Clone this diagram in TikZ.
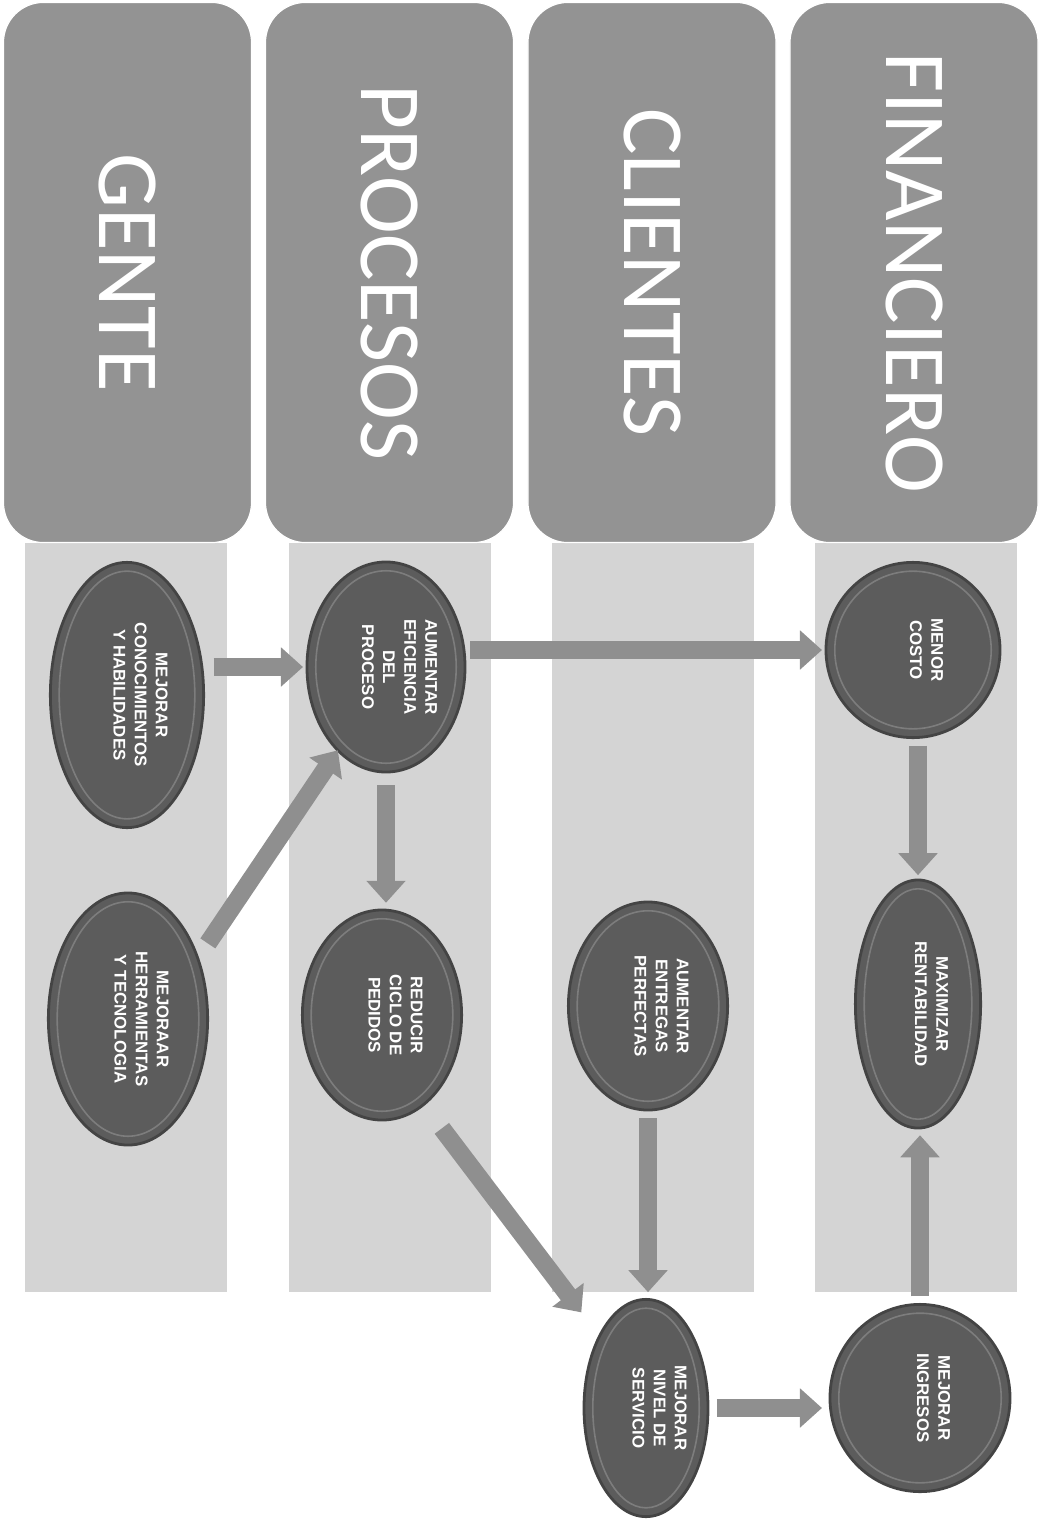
\documentclass[tikz,border=0pt]{standalone}
\usepackage{fontspec}
\setmainfont{Liberation Sans}
\newfontfamily\headfont{Carlito}
\usetikzlibrary{arrows.meta,shapes.geometric,calc}
\definecolor{headgray}{HTML}{939393}
\definecolor{lanegray}{HTML}{D4D4D4}
\definecolor{goalgray}{HTML}{5C5C5C}
\definecolor{rimgray}{HTML}{444444}
\definecolor{arrowgray}{HTML}{8F8F8F}
% vertical text, read from top to bottom
\newcommand{\vtext}[1]{\hspace{0.6cm}\rotatebox{-90}{\begin{tabular}{@{}c@{}}#1\end{tabular}}}

\begin{document}
\begin{tikzpicture}[x=0.025cm, y=-0.025cm,
    header/.style={rectangle, rounded corners=1cm, fill=headgray, draw=white, line width=0.03cm,
        minimum width=6.2cm, minimum height=13.5cm, inner sep=0pt, text=white,
        font=\headfont\fontsize{62}{62}\selectfont},
    goal/.style={ellipse, fill=goalgray, draw=rimgray, line width=0.07cm, inner sep=0pt, outer sep=0pt,
        text=white, font=\bfseries\fontsize{12}{15}\selectfont,
        path picture={\draw[goalgray!80!white, line width=0.04cm]
            let \p1=($(path picture bounding box.north east)-(path picture bounding box.center)$) in
            (path picture bounding box.center) ellipse ({abs(\x1)-0.22cm} and {abs(\y1)-0.22cm});}},
    flow/.style={line width=0.45cm, draw=arrowgray, -{Triangle[width=0.95cm,length=0.55cm]}}]
    \useasboundingbox (0,0) rectangle (1040,1519);

    % lanes
    \foreach \x in {25,289,552,815}
        \fill[lanegray] (\x,543) rectangle ++(202,749);

    % headers
    \foreach \name/\x/\txt in {gente/127.5/GENTE, procesos/389.5/PROCESOS, clientes/652/CLIENTES, financiero/914/FINANCIERO}
        \node[header] (\name) at (\x,272.5) {\rotatebox{-90}{\txt}};

    % goals
    \node[goal, minimum width=3.83cm, minimum height=6.63cm] (conoc) at (127,695) {\vtext{MEJORAR\\CONOCIMIENTOS\\Y HABILIDADES}};
    \node[goal, minimum width=3.98cm, minimum height=6.3cm] (herram) at (128,1019) {\vtext{MEJORAAR\\HERRAMIENTAS\\Y TECNOLOGIA}};
    \node[goal, minimum width=3.95cm, minimum height=5.25cm] (efic) at (386,667) {\vtext{AUMENTAR\\EFICIENCIA\\DEL\\PROCESO}};
    \node[goal, minimum width=3.98cm, minimum height=5.25cm] (reducir) at (382,1015) {\vtext{REDUCIR\\CICLO DE\\PEDIDOS}};
    \node[goal, minimum width=3.98cm, minimum height=5.2cm] (entregas) at (648,1006) {\vtext{AUMENTAR\\ENTREGAS\\PERFECTAS}};
    \node[goal, minimum width=3.1cm, minimum height=5.43cm] (servicio) at (646,1408) {\vtext{MEJORAR\\NIVEL DE\\SERVICIO}};
    \node[goal, minimum width=4.35cm, minimum height=4.38cm] (costo) at (913,650) {\vtext{MENOR\\COSTO}};
    \node[goal, minimum width=3.13cm, minimum height=6.2cm] (maxim) at (918,1004) {\vtext{MAXIMIZAR\\RENTABILIDAD}};
    \node[goal, minimum width=4.5cm, minimum height=4.68cm] (ingresos) at (920,1398) {\vtext{MEJORAR\\INGRESOS}};

    % arrows
    \draw[flow, shorten <=0.25cm, shorten >=0.1cm] (conoc.east |- efic.west) -- (efic.west);
    \draw[flow, shorten <=0.45cm] (herram.41) -- (efic.240);
    \draw[flow, shorten <=0.33cm, shorten >=0.18cm] (efic.south) -- (efic.south |- reducir.north);
    \draw[flow, shorten <=0.13cm, shorten >=0.1cm] (efic.east |- costo.west) -- (costo.west);
    \draw[flow, shorten <=0.2cm, shorten >=0.12cm] (costo.south -| maxim.north) -- (maxim.north);
    \draw[flow, shorten <=0.75cm, shorten >=0.75cm] (reducir.-65) -- (servicio.123);
    \draw[flow, shorten <=0.2cm, shorten >=0.18cm] (entregas.south) -- (entregas.south |- servicio.north);
    \draw[flow, shorten <=0.22cm, shorten >=0.2cm] (servicio.east) -- (servicio.east -| ingresos.west);
    \draw[flow, shorten <=0.2cm, shorten >=0.18cm] (ingresos.north) -- (ingresos.north |- maxim.south);
\end{tikzpicture}
\end{document}
